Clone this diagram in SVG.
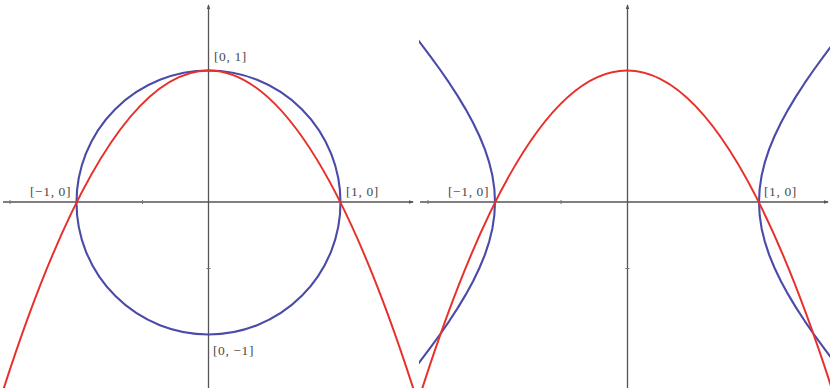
<svg xmlns="http://www.w3.org/2000/svg" width="830" height="388" viewBox="0 0 830 388">
<style>
.axis{stroke:#555;stroke-width:1.3;fill:none}
.tick{stroke:#777;stroke-width:1}
.blue{stroke:#4a4aa8;stroke-width:2.1;fill:none;stroke-linejoin:round}
.red{stroke:#e8302a;stroke-width:2;fill:none}
.lbl{font-family:"Liberation Serif","DejaVu Serif",serif;font-size:13.5px;fill:#4a4a4a}
</style>
<defs>
<marker id="ar" viewBox="0 0 6 6" refX="5" refY="3" markerWidth="5" markerHeight="5" orient="auto" markerUnits="userSpaceOnUse">
<path d="M0,0.8 L6,3 L0,5.2 Z" fill="#555"/>
</marker>
<clipPath id="cl"><rect x="0" y="0" width="416" height="388"/></clipPath>
<clipPath id="cr"><rect x="419" y="0" width="411" height="388"/></clipPath>
</defs>
<rect width="830" height="388" fill="#fff"/>
<g id="left-panel" clip-path="url(#cl)">
<g id="left-axes">
<line class="axis" x1="3" y1="202" x2="413" y2="202" marker-end="url(#ar)"/>
<line class="axis" x1="208.5" y1="388" x2="208.5" y2="5" marker-end="url(#ar)"/>
<line class="tick" x1="10" y1="200" x2="10" y2="204"/>
<line class="tick" x1="142.5" y1="200" x2="142.5" y2="204"/>
<line class="tick" x1="206.5" y1="268.5" x2="210.5" y2="268.5"/>
</g>
<g id="circle"><circle class="blue" cx="208.5" cy="202.5" r="132"/></g>
<g id="parabola-left"><path class="red" d="M-2.7 408.7 Q208.5 -267.7 419.7 408.7"/></g>
<g id="left-labels">
<text class="lbl" x="214" y="61" letter-spacing="0.6">[0, 1]</text>
<text class="lbl" x="30" y="196" letter-spacing="0.6">[−1, 0]</text>
<text class="lbl" x="346" y="196" letter-spacing="0.6">[1, 0]</text>
<text class="lbl" x="213" y="355" letter-spacing="0.6">[0, −1]</text>
</g>
</g>
<g id="right-panel" clip-path="url(#cr)">
<g id="right-axes">
<line class="axis" x1="420" y1="202" x2="828" y2="202" marker-end="url(#ar)"/>
<line class="axis" x1="627.5" y1="388" x2="627.5" y2="5" marker-end="url(#ar)"/>
<line class="tick" x1="428" y1="200" x2="428" y2="204"/>
<line class="tick" x1="561" y1="200" x2="561" y2="204"/>
<line class="tick" x1="625.5" y1="268.5" x2="629.5" y2="268.5"/>
</g>
<g id="hyperbola">
<polyline class="blue" points="843.5,30.4 833.19,43.6 823.23,56.8 813.68,70 804.59,83.2 796.04,96.4 788.13,109.6 780.94,122.8 774.58,136 769.17,149.2 764.81,162.4 761.61,175.6 759.66,188.8 759,202 759.66,215.2 761.61,228.4 764.81,241.6 769.17,254.8 774.58,268 780.94,281.2 788.13,294.4 796.04,307.6 804.59,320.8 813.68,334 823.23,347.2 833.19,360.4 843.5,373.6"/>
<polyline class="blue" points="410.5,30.4 420.81,43.6 430.77,56.8 440.32,70 449.41,83.2 457.96,96.4 465.87,109.6 473.06,122.8 479.42,136 484.83,149.2 489.19,162.4 492.39,175.6 494.34,188.8 495,202 494.34,215.2 492.39,228.4 489.19,241.6 484.83,254.8 479.42,268 473.06,281.2 465.87,294.4 457.96,307.6 449.41,320.8 440.32,334 430.77,347.2 420.81,360.4 410.5,373.6"/>
</g>
<g id="parabola-right"><path class="red" d="M415.8 408.7 Q627 -267.7 838.2 408.7"/></g>
<g id="right-labels">
<text class="lbl" x="448" y="196" letter-spacing="0.6">[−1, 0]</text>
<text class="lbl" x="764" y="196" letter-spacing="0.6">[1, 0]</text>
</g>
</g>
</svg>
